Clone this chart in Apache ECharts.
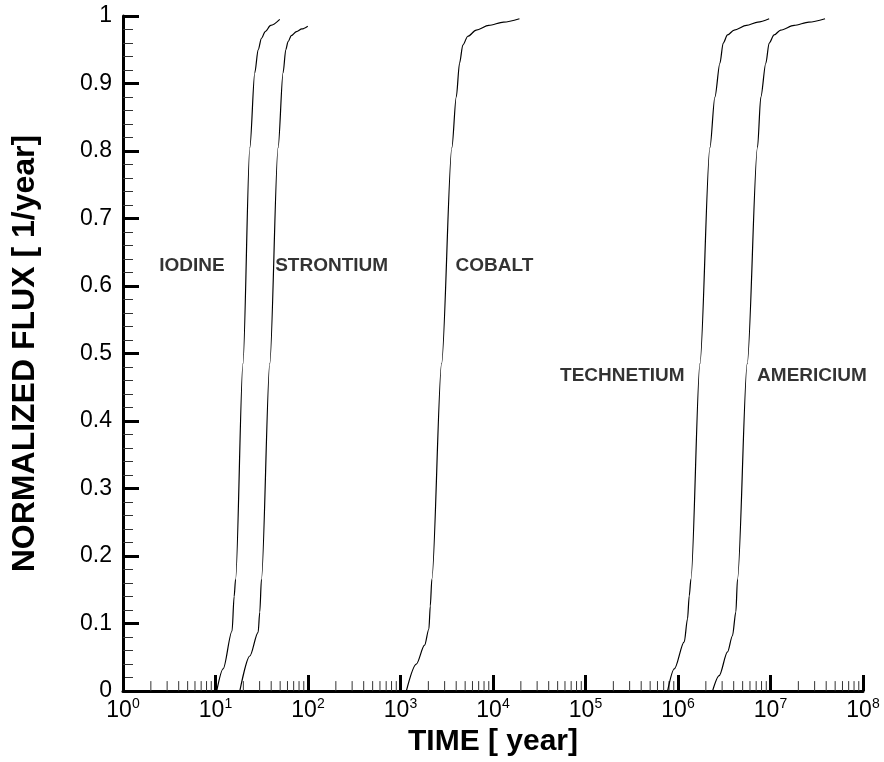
<!DOCTYPE html>
<html>
<head>
<meta charset="utf-8">
<script src="https://cdn.jsdelivr.net/npm/echarts@6/dist/echarts.min.js"></script>
<style>
  html, body { margin: 0; padding: 0; background: #fff; }
  #main { width: 884px; height: 762px; }
</style>
</head>
<body>
<div id="main"></div>
<script>
  // curves (time in years, normalized flux)
  var iodineX = [10.3, 12.1, 15.1, 15.9, 16.5, 19.8, 23.5, 26.6, 28.9, 31.4, 34.5, 39.5, 49.5];
  var iodineY = [0, 0.033, 0.089, 0.14, 0.166, 0.485, 0.805, 0.916, 0.95, 0.967, 0.977, 0.986, 0.995];

  var strontiumX = [18.3, 23.5, 28.9, 30.1, 31.4, 38.6, 47.5, 53.8, 57.5, 60.9, 66, 75, 86, 99.4];
  var strontiumY = [0, 0.052, 0.087, 0.117, 0.166, 0.485, 0.805, 0.916, 0.95, 0.962, 0.971, 0.977, 0.981, 0.985];

  var cobaltX = [1156, 1482, 1822, 2027, 2099, 2183, 2780, 3592, 4006, 4348, 4720, 5343, 6589, 9000, 13000, 19320];
  var cobaltY = [0, 0.04, 0.068, 0.092, 0.126, 0.166, 0.485, 0.805, 0.88, 0.93, 0.957, 0.97, 0.979, 0.986, 0.991, 0.996];

  var technetiumX = [7.71e5, 9.12e5, 1.168e6, 1.267e6, 1.323e6, 1.38e6, 1.726e6, 2.213e6, 2.506e6, 2.838e6, 3.08e6, 3.43e6, 4.05e6, 5.5e6, 7.3e6, 9.67e6];
  var technetiumY = [0, 0.033, 0.073, 0.107, 0.141, 0.166, 0.485, 0.805, 0.88, 0.93, 0.96, 0.972, 0.979, 0.986, 0.991, 0.996];

  var americiumX = [2.36e6, 2.79e6, 3.43e6, 3.88e6, 4.22e6, 4.40e6, 5.6e6, 7.23e6, 7.86e6, 8.9e6, 9.67e6, 1.094e7, 1.29e7, 1.8e7, 2.6e7, 3.89e7];
  var americiumY = [0, 0.023, 0.058, 0.082, 0.117, 0.166, 0.485, 0.805, 0.88, 0.93, 0.96, 0.972, 0.979, 0.986, 0.991, 0.996];

  // curve names and where their labels sit (label centre, data coords)
  var labelNames = ['IODINE', 'STRONTIUM', 'COBALT', 'TECHNETIUM', 'AMERICIUM'];
  var labelX = [5.56, 180, 10370, 2.5e5, 2.81e7];
  var labelY = [0.63, 0.63, 0.63, 0.467, 0.467];

  // minor ticks of the log axis: 2..9 in every decade
  var minorMult = [2, 3, 4, 5, 6, 7, 8, 9];
  var decades = [1, 10, 100, 1e3, 1e4, 1e5, 1e6, 1e7];

  var FONT = 'Liberation Sans, Arial, Helvetica, sans-serif';

  function pairs(xs, ys) {
    return xs.map(function (x, i) { return [x, ys[i]]; });
  }

  var minorTicks = [];
  decades.forEach(function (d) {
    minorMult.forEach(function (m) { minorTicks.push([m * d, 0]); });
  });

  var chart = echarts.init(document.getElementById('main'));

  function curve(name, xs, ys) {
    return {
      name: name,
      type: 'line',
      data: pairs(xs, ys),
      showSymbol: false,
      smooth: 0.3,
      smoothMonotone: 'x',
      lineStyle: { color: '#000', width: 1.2 },
      silent: true
    };
  }

  var option = {
    animation: false,
    backgroundColor: '#fff',
    grid: { left: 123, right: 21, top: 16, bottom: 70 },
    xAxis: {
      type: 'log',
      logBase: 10,
      min: 1,
      max: 1e8,
      name: 'TIME [ year]',
      nameLocation: 'middle',
      nameGap: 35,
      nameTextStyle: { fontFamily: FONT, fontSize: 30, fontWeight: 'bold', color: '#000' },
      axisLine: { lineStyle: { color: '#000', width: 3 } },
      axisTick: { inside: true, length: 16, lineStyle: { color: '#000', width: 3 } },
      splitLine: { show: false },
      axisLabel: {
        margin: 6,
        formatter: function (v) {
          return '{a|10}{b|' + Math.round(Math.log10(v)) + '}';
        },
        rich: {
          a: { fontFamily: FONT, fontSize: 23, color: '#000', lineHeight: 25, verticalAlign: 'bottom' },
          b: { fontFamily: FONT, fontSize: 14, color: '#000', lineHeight: 25, verticalAlign: 'top' }
        }
      }
    },
    yAxis: {
      type: 'value',
      min: 0,
      max: 1,
      interval: 0.1,
      name: 'NORMALIZED FLUX [ 1/year]',
      nameLocation: 'middle',
      nameRotate: 90,
      nameGap: 82,
      nameTextStyle: { fontFamily: FONT, fontSize: 32, fontWeight: 'bold', color: '#000' },
      axisLine: { show: true, lineStyle: { color: '#000', width: 3 } },
      axisTick: { show: true, inside: true, length: 16, lineStyle: { color: '#000', width: 3 } },
      minorTick: { show: true, splitNumber: 5, length: 10, lineStyle: { color: '#333', width: 1 } },
      splitLine: { show: false },
      axisLabel: { margin: 11, fontFamily: FONT, fontSize: 23, color: '#000' }
    },
    series: [
      curve('IODINE', iodineX, iodineY),
      curve('STRONTIUM', strontiumX, strontiumY),
      curve('COBALT', cobaltX, cobaltY),
      curve('TECHNETIUM', technetiumX, technetiumY),
      curve('AMERICIUM', americiumX, americiumY),
      {
        name: 'minor ticks',
        type: 'custom',
        silent: true,
        data: minorTicks,
        renderItem: function (params, api) {
          var p = api.coord([api.value(0), 0]);
          return {
            type: 'line',
            shape: { x1: p[0], y1: p[1], x2: p[0], y2: p[1] - 10 },
            style: { stroke: '#333', lineWidth: 1 }
          };
        }
      },
      {
        name: 'labels',
        type: 'scatter',
        silent: true,
        symbolSize: 0,
        data: labelNames.map(function (n, i) { return [labelX[i], labelY[i], n]; }),
        label: {
          show: true,
          position: 'inside',
          formatter: function (p) { return p.data[2]; },
          fontFamily: FONT,
          fontSize: 19,
          fontWeight: 'bold',
          color: '#000'
        }
      }
    ]
  };

  chart.setOption(option);
</script>
</body>
</html>
